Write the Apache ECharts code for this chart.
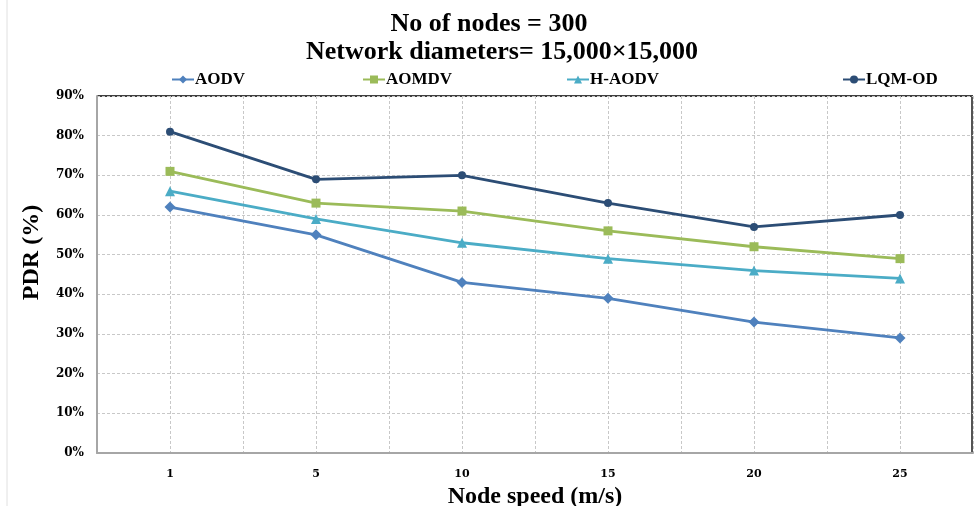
<!DOCTYPE html>
<html>
<head>
<meta charset="utf-8">
<script src="https://cdn.jsdelivr.net/npm/echarts@6/dist/echarts.min.js"></script>
<style>
  html, body { margin: 0; padding: 0; background: #fff; }
  #chart { width: 976px; height: 506px; }
</style>
</head>
<body>
<div id="chart"></div>
<script>
  const speeds = ['1', '5', '10', '15', '20', '25'];
  const aodv = [62, 55, 43, 39, 33, 29];
  const aomdv = [71, 63, 61, 56, 52, 49];
  const haodv = [66, 59, 53, 49, 46, 44];
  const lqmod = [81, 69, 70, 63, 57, 60];

  const seriesDefs = [
    { name: 'AODV', data: aodv, color: '#4f81bd', symbol: 'diamond', size: 11, left: 166 },
    { name: 'AOMDV', data: aomdv, color: '#9bbb59', symbol: 'rect', size: 9, left: 357 },
    { name: 'H-AODV', data: haodv, color: '#4bacc6', symbol: 'triangle', size: 10, left: 561 },
    { name: 'LQM-OD', data: lqmod, color: '#2c4d75', symbol: 'circle', size: 8, left: 837 },
  ];

  const chart = echarts.init(document.getElementById('chart'));
  const serif = 'Liberation Serif';
  const tickFont = 'DejaVu Serif';

  chart.setOption({
    animation: false,
    title: [
      {
        text: 'No of nodes = 300',
        left: 484, top: 6, textAlign: 'center',
        textStyle: { fontFamily: serif, fontWeight: 'bold', fontSize: 26, color: '#000' },
      },
      {
        text: 'Network diameters= 15,000×15,000',
        left: 497, top: 34, textAlign: 'center',
        textStyle: { fontFamily: serif, fontWeight: 'bold', fontSize: 26, color: '#000' },
      },
    ],
    legend: seriesDefs.map(s => ({
      data: [s.name],
      left: s.left, top: 66,
      itemWidth: 22, itemHeight: 10,
      itemGap: 2,
      textStyle: { fontFamily: serif, fontWeight: 'bold', fontSize: 17, color: '#000', padding: [0, 0, 0, -4] },
    })),
    grid: { left: 97, right: 3, top: 96, bottom: 53, outerBoundsMode: 'none' },
    xAxis: {
      type: 'value',
      min: 0, max: 6, interval: 0.5,
      name: 'Node speed (m/s)',
      nameLocation: 'middle', nameGap: 30,
      nameTextStyle: { fontFamily: serif, fontWeight: 'bold', fontSize: 24, color: '#000' },
      axisLine: { show: true, lineStyle: { color: '#a6a6a6', width: 2 } },
      axisTick: { show: false },
      axisLabel: {
        margin: 16,
        fontFamily: tickFont, fontWeight: 'bold', fontSize: 11, color: '#000',
        formatter: v => {
          const i = v - 0.5;
          return Number.isInteger(i) && speeds[i] !== undefined ? speeds[i] : '';
        },
      },
      splitLine: { show: true, lineStyle: { color: '#c8c8c8', type: [3, 2] } },
    },
    yAxis: {
      type: 'value',
      min: 0, max: 90, interval: 10,
      name: 'PDR (%)',
      nameLocation: 'middle', nameGap: 53,
      nameTextStyle: { fontFamily: serif, fontWeight: 'bold', fontSize: 24, color: '#000', padding: [0, 0, 0, 44] },
      axisLine: { show: true, lineStyle: { color: '#a6a6a6', width: 2 } },
      axisTick: { show: false },
      axisLabel: {
        margin: 13,
        fontFamily: tickFont, fontWeight: 'bold', fontSize: 12, color: '#000',
        formatter: v => v + '%',
      },
      splitLine: { show: true, lineStyle: { color: '#c8c8c8', type: [3, 2] } },
    },
    graphic: [
      { type: 'line', shape: { x1: 97, y1: 96, x2: 973, y2: 96 }, style: { stroke: '#000', lineWidth: 1.5 } },
      { type: 'line', shape: { x1: 972, y1: 96, x2: 972, y2: 453 }, style: { stroke: '#555', lineWidth: 2 } },
      { type: 'line', shape: { x1: 7, y1: 0, x2: 7, y2: 506 }, style: { stroke: '#e0e0e0', lineWidth: 1 } },
    ],
    series: seriesDefs.map(s => ({
      name: s.name,
      type: 'line',
      data: s.data.map((v, i) => [i + 0.5, v]),
      symbol: s.symbol,
      symbolSize: s.size,
      showSymbol: true,
      lineStyle: { color: s.color, width: 2.8 },
      itemStyle: { color: s.color },
    })),
  });
</script>
</body>
</html>
